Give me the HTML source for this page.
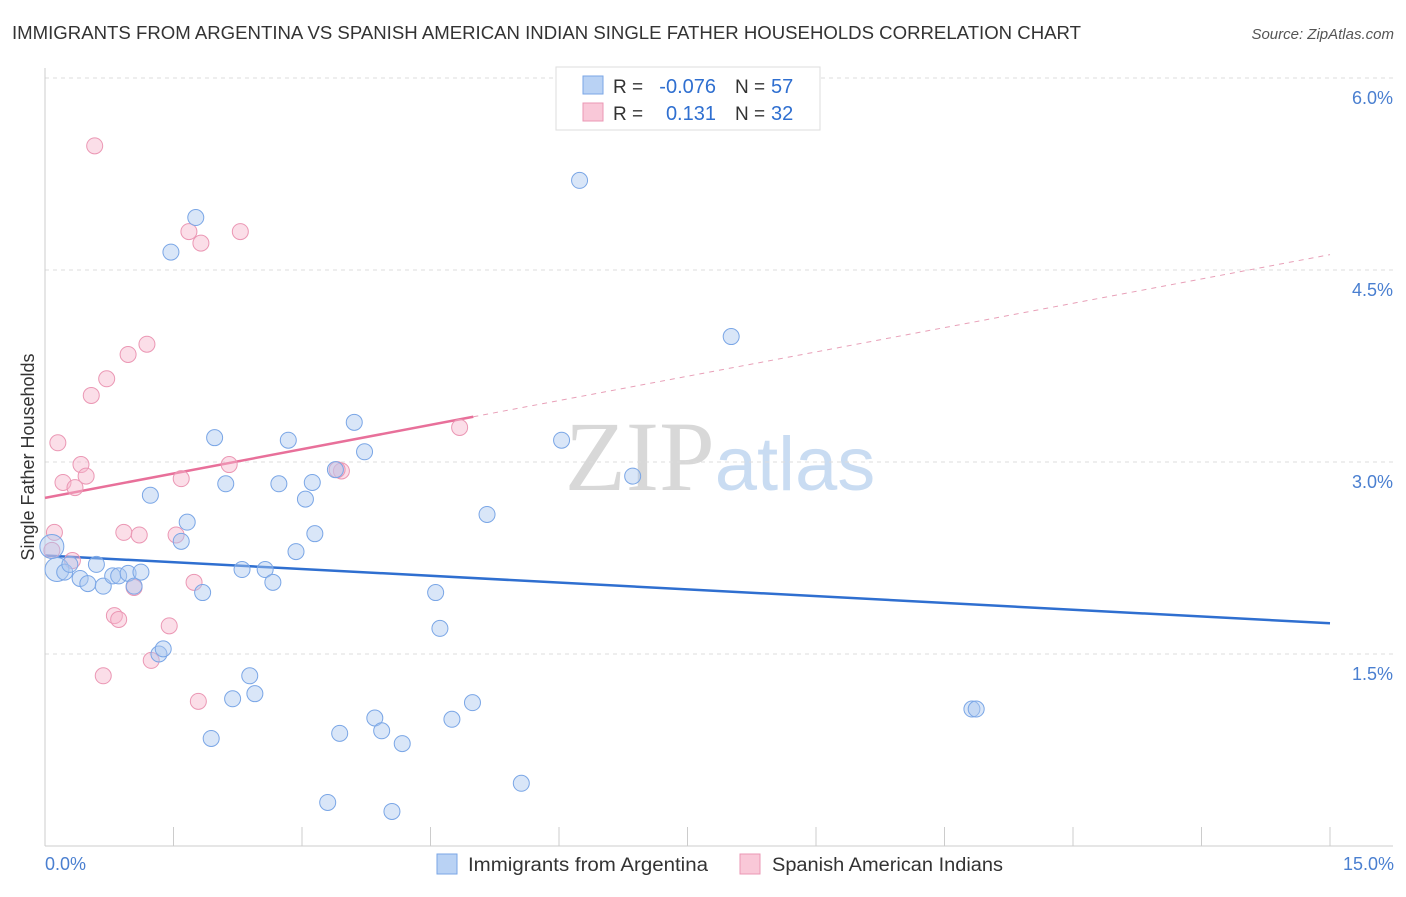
<!DOCTYPE html>
<html><head><meta charset="utf-8"><style>
body{margin:0;background:#fff;font-family:"Liberation Sans",sans-serif;}
svg text{font-family:"Liberation Sans",sans-serif;}
</style></head><body>
<svg id="chart" width="1406" height="892" xmlns="http://www.w3.org/2000/svg">
<text x="12" y="39" font-size="18" fill="#333" textLength="1069" lengthAdjust="spacingAndGlyphs">IMMIGRANTS FROM ARGENTINA VS SPANISH AMERICAN INDIAN SINGLE FATHER HOUSEHOLDS CORRELATION CHART</text>
<text x="1394" y="39" font-size="15" fill="#555" text-anchor="end" font-style="italic">Source: ZipAtlas.com</text>
<text x="720" y="490" font-size="100" text-anchor="middle"><tspan fill="#d8d8d8" font-family="Liberation Serif">ZIP</tspan><tspan fill="#c9dcf2" font-size="76">atlas</tspan></text>
<g id="grid"></g>
<g id="axes"></g>
<g id="lines"></g>
<g id="points"></g>
<text transform="translate(34,457) rotate(-90)" font-size="18" fill="#333" text-anchor="middle">Single Father Households</text>
<text x="45" y="870" font-size="18" fill="#4a7fd0">0.0%</text>
<text x="1394" y="870" font-size="18" fill="#4a7fd0" text-anchor="end">15.0%</text>
<g>
<rect x="556" y="67" width="264" height="63" fill="#fff" stroke="#ddd"/>
<rect x="583" y="76" width="20" height="18" fill="#b9d2f4" stroke="#7aa6e6"/>
<rect x="583" y="103" width="20" height="18" fill="#f9c8d8" stroke="#eb97b4"/>
<text x="613" y="93" font-size="19" fill="#333">R =</text>
<text x="716" y="93" font-size="20" fill="#2f6fd0" text-anchor="end">-0.076</text>
<text x="735" y="93" font-size="19" fill="#333">N =</text>
<text x="771" y="93" font-size="20" fill="#2f6fd0">57</text>
<text x="613" y="120" font-size="19" fill="#333">R =</text>
<text x="716" y="120" font-size="20" fill="#2f6fd0" text-anchor="end">0.131</text>
<text x="735" y="120" font-size="19" fill="#333">N =</text>
<text x="771" y="120" font-size="20" fill="#2f6fd0">32</text>
</g>
<g>
<rect x="437" y="854" width="20" height="20" fill="#b9d2f4" stroke="#7aa6e6"/>
<text x="468" y="871" font-size="19" fill="#333" textLength="240" lengthAdjust="spacingAndGlyphs">Immigrants from Argentina</text>
<rect x="740" y="854" width="20" height="20" fill="#f9c8d8" stroke="#eb97b4"/>
<text x="772" y="871" font-size="19" fill="#333" textLength="231" lengthAdjust="spacingAndGlyphs">Spanish American Indians</text>
</g>
</svg>
<script>
const yTicks=[1.5,3.0,4.5,6.0];
const yTickLabels=["1.5%","3.0%","4.5%","6.0%"];
const xTicks=[0,1.5,3,4.5,6,7.5,9,10.5,12,13.5,15];
const blueX=[0.14,0.23,0.29,0.41,0.5,0.6,0.68,0.79,0.86,0.97,1.04,1.12,1.23,1.33,1.38,1.47,1.59,1.66,1.76,1.84,1.94,1.98,2.11,2.19,2.3,2.39,2.45,2.57,2.66,2.73,2.84,2.93,3.04,3.12,3.15,3.3,3.39,3.44,3.61,3.73,3.85,3.93,4.05,4.17,4.56,4.61,4.75,4.99,5.16,5.56,6.03,6.24,6.86,8.01,10.82,10.87,0.08];
const blueY=[2.16,2.14,2.2,2.09,2.05,2.2,2.03,2.11,2.11,2.13,2.03,2.14,2.74,1.5,1.54,4.64,2.38,2.53,4.91,1.98,0.84,3.19,2.83,1.15,2.16,1.33,1.19,2.16,2.06,2.83,3.17,2.3,2.71,2.84,2.44,0.34,2.94,0.88,3.31,3.08,1.0,0.9,0.27,0.8,1.98,1.7,0.99,1.12,2.59,0.49,3.17,5.2,2.89,3.98,1.07,1.07,2.34];
const pinkX=[0.58,1.68,1.82,2.28,1.19,0.97,0.72,0.54,0.15,0.42,0.48,0.21,0.35,1.59,2.15,3.46,3.41,4.84,0.11,0.92,1.1,1.53,0.08,0.32,1.74,1.04,0.81,0.86,1.45,1.24,0.68,1.79];
const pinkY=[5.47,4.8,4.71,4.8,3.92,3.84,3.65,3.52,3.15,2.98,2.89,2.84,2.8,2.87,2.98,2.93,2.94,3.27,2.45,2.45,2.43,2.43,2.31,2.23,2.06,2.02,1.8,1.77,1.72,1.45,1.33,1.13];
const blueTrend=[2.27,1.74];
const pinkTrend=[2.72,4.62];
const pinkSolidEnd=5.0;
const X=v=>45+v/15*1285, Y=v=>846-v/1.5*192;
const NS="http://www.w3.org/2000/svg";
function mk(tag,attrs,parent){const e=document.createElementNS(NS,tag);for(const k in attrs)e.setAttribute(k,attrs[k]);document.getElementById(parent).appendChild(e);return e;}
yTicks.forEach((t,i)=>{
 const l=mk('line',{x1:45,x2:1393,y1:Y(t),y2:Y(t),stroke:'#ddd','stroke-dasharray':'4,4'},'grid');
 
 
 const tx=mk('text',{x:1393,y:Y(t)+26,'font-size':18,fill:'#4a7fd0','text-anchor':'end'},'grid');
 tx.textContent=yTickLabels[i];
 
 
});
let a=mk('line',{x1:45,x2:45,y1:68,y2:846,stroke:'#ccc'},'axes');


a=mk('line',{x1:45,x2:1393,y1:846,y2:846,stroke:'#ccc'},'axes');


xTicks.forEach(t=>{const l=mk('line',{x1:X(t),x2:X(t),y1:827,y2:846,stroke:'#ccc'},'axes');
 
 });
let tl=mk('line',{x1:X(0),y1:Y(blueTrend[0]),x2:X(15),y2:Y(blueTrend[1]),stroke:'#2f6fd0','stroke-width':2.5},'lines');


const pm=pinkTrend[0]+(pinkTrend[1]-pinkTrend[0])*pinkSolidEnd/15;
tl=mk('line',{x1:X(0),y1:Y(pinkTrend[0]),x2:X(pinkSolidEnd),y2:Y(pm),stroke:'#e8709a','stroke-width':2.5},'lines');


tl=mk('line',{x1:X(pinkSolidEnd),y1:Y(pm),x2:X(15),y2:Y(pinkTrend[1]),stroke:'#e8a0b8','stroke-width':1,'stroke-dasharray':'5,5'},'lines');


pinkX.forEach((x,i)=>{const c=mk('circle',{cx:X(x),cy:Y(pinkY[i]),r:8,fill:'rgba(247,182,204,0.45)',stroke:'#eb97b4','stroke-width':1},'points');
 
 });
blueX.forEach((x,i)=>{const c=mk('circle',{cx:X(x),cy:Y(blueY[i]),r:(i==0||i==56)?12:8,fill:'rgba(170,200,240,0.45)',stroke:'#7aa6e6','stroke-width':1},'points');
 
 });
</script>
</body></html>
